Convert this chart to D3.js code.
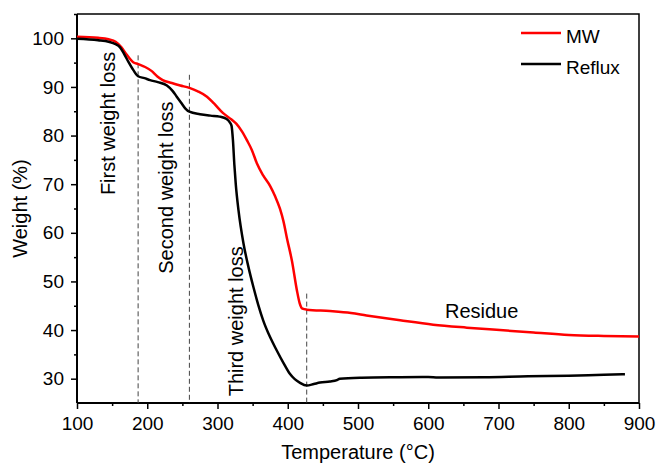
<!DOCTYPE html>
<html>
<head>
<meta charset="utf-8">
<script src="https://cdn.jsdelivr.net/npm/d3@7"></script>
<style>
  body { margin: 0; background: #fff; }
  svg { font-family: "Liberation Sans", Arial, Helvetica, sans-serif; }
</style>
</head>
<body>
<div id="chart"></div>
<script>
// TGA curves: [temperature °C, weight %]
const mwData = [
  [100, 100.3], [130, 100.1], [145, 99.8], [155, 99.3], [163, 98.2], [171, 96.6],
  [180, 95.1], [187, 94.7], [197, 94.1], [206, 93.3], [214, 92.2], [222, 91.4],
  [235, 90.8], [247, 90.3], [260, 89.8], [272, 89.1], [285, 88.0], [295, 86.6],
  [308, 84.6], [320, 83.3], [327, 82.4], [335, 80.8], [342, 79.0], [349, 77.0],
  [356, 74.3], [365, 71.8], [375, 69.6], [382, 67.5], [389, 64.9], [394, 62.3],
  [399, 58.8], [406, 54.2], [413, 48.2], [417, 45.5], [421, 44.4], [427, 44.2],
  [460, 43.9], [490, 43.5], [512, 43.0], [560, 42.0], [607, 41.1], [655, 40.5],
  [702, 40.0], [750, 39.5], [800, 39.0], [850, 38.8], [900, 38.7]
];

const refluxData = [
  [100, 99.9], [130, 99.6], [145, 99.3], [155, 98.8], [161, 98.2], [167, 96.8],
  [173, 95.2], [180, 93.5], [187, 92.2], [196, 91.8], [204, 91.4], [215, 91.0],
  [228, 90.3], [236, 89.2], [242, 88.0], [248, 86.8], [254, 85.6], [260, 84.9],
  [275, 84.4], [290, 84.1], [303, 83.9], [313, 83.4], [318, 82.6], [320, 82.0],
  [322, 79.0], [324, 74.0], [326, 70.0], [330, 64.5], [337, 57.8], [344, 53.0],
  [351, 48.9], [358, 45.2], [365, 42.0], [375, 38.5], [384, 35.9], [394, 33.2],
  [403, 31.0], [410, 29.9], [417, 29.2], [427, 28.6], [437, 28.9], [446, 29.2],
  [460, 29.4], [470, 29.7], [474, 30.0], [505, 30.2], [560, 30.3], [600, 30.35],
  [614, 30.25], [680, 30.3], [742, 30.5], [800, 30.6], [850, 30.8], [880, 30.9]
];

const seriesNames = ["MW", "Reflux"];
const seriesColors = ["#ff0000", "#000000"];

// dashed separators: [temperature, top weight]
const stageLines = [[187, 96.5], [260, 92.5], [427, 47.5]];

const stageLabels = ["First weight loss", "Second weight loss", "Third weight loss"];
const stageLabelPos = [[154, 82.5], [237, 69.3], [336, 41.8]]; // [temp at baseline, weight at centre]

const xTicks = [100, 200, 300, 400, 500, 600, 700, 800, 900];
const xMinor = [150, 250, 350, 450, 550, 650, 750, 850];
const yTicks = [30, 40, 50, 60, 70, 80, 90, 100];
const yMinor = [35, 45, 55, 65, 75, 85, 95, 105];

const width = 658, height = 464;
const margin = { top: 14, right: 19, bottom: 61, left: 77 };

const svg = d3.select("#chart").append("svg")
  .attr("width", width)
  .attr("height", height);

const x = d3.scaleLinear().domain([100, 900]).range([margin.left, width - margin.right]);
const y = d3.scaleLinear().domain([25, 105]).range([height - margin.bottom, margin.top]);

// frame (top + right)
svg.append("path")
  .attr("d", `M${x(100)},${y(105)}H${x(900)}V${y(25)}`)
  .attr("fill", "none")
  .attr("stroke", "#000")
  .attr("stroke-width", 1.5);

// axes
const xAxis = svg.append("g")
  .attr("transform", `translate(0,${y(25)})`)
  .call(d3.axisBottom(x).tickValues(xTicks).tickSize(6).tickPadding(8).tickFormat(d3.format("d")));
svg.append("g")
  .attr("transform", `translate(0,${y(25)})`)
  .call(d3.axisBottom(x).tickValues(xMinor).tickSize(3).tickFormat(""))
  .call(g => g.select(".domain").remove());

const yAxis = svg.append("g")
  .attr("transform", `translate(${x(100)},0)`)
  .call(d3.axisLeft(y).tickValues(yTicks).tickSize(6).tickPadding(7));
svg.append("g")
  .attr("transform", `translate(${x(100)},0)`)
  .call(d3.axisLeft(y).tickValues(yMinor).tickSize(3).tickFormat(""))
  .call(g => g.select(".domain").remove());

svg.selectAll(".domain").attr("stroke-width", 2);
svg.selectAll(".tick line").attr("stroke-width", 1.5);
svg.selectAll(".tick text").attr("font-size", 19).attr("fill", "#000");
xAxis.select(".domain").attr("d", `M${x(100)},0H${x(900)}`);
yAxis.select(".domain").attr("d", `M0,${y(25)}V${y(105)}`);

// axis titles
svg.append("text")
  .attr("x", (x(100) + x(900)) / 2)
  .attr("y", 459)
  .attr("text-anchor", "middle")
  .attr("font-size", 20)
  .text("Temperature (°C)");

svg.append("text")
  .attr("transform", `translate(27,${(y(25) + y(105)) / 2}) rotate(-90)`)
  .attr("text-anchor", "middle")
  .attr("font-size", 20)
  .text("Weight (%)");

// dashed separators
svg.selectAll(".stage")
  .data(stageLines)
  .enter()
  .append("line")
  .attr("x1", d => x(d[0]))
  .attr("x2", d => x(d[0]))
  .attr("y1", d => y(d[1]))
  .attr("y2", y(25))
  .attr("stroke", "#444")
  .attr("stroke-width", 1)
  .attr("stroke-dasharray", "5,3");

// curves
const line = d3.line()
  .x(d => x(d[0]))
  .y(d => y(d[1]))
  .curve(d3.curveMonotoneX);

[mwData, refluxData].forEach((data, i) => {
  svg.append("path")
    .datum(data)
    .attr("fill", "none")
    .attr("stroke", seriesColors[i])
    .attr("stroke-width", 2.5)
    .attr("stroke-linejoin", "round")
    .attr("d", line);
});

// stage labels
svg.selectAll(".stage-label")
  .data(stageLabels)
  .enter()
  .append("text")
  .attr("transform", (d, i) => `translate(${x(stageLabelPos[i][0])},${y(stageLabelPos[i][1])}) rotate(-90)`)
  .attr("text-anchor", "middle")
  .attr("font-size", 20)
  .text(d => d);

svg.append("text")
  .attr("x", x(676))
  .attr("y", 318)
  .attr("text-anchor", "middle")
  .attr("font-size", 20)
  .text("Residue");

// legend
const legend = svg.append("g").attr("transform", "translate(521,33)");
seriesNames.forEach((name, i) => {
  const row = legend.append("g").attr("transform", `translate(0,${i * 31})`);
  row.append("line")
    .attr("x1", 0).attr("x2", 40)
    .attr("stroke", seriesColors[i])
    .attr("stroke-width", 2.5);
  row.append("text")
    .attr("x", 45)
    .attr("y", 10)
    .attr("font-size", 19)
    .text(name);
});
</script>
</body>
</html>
